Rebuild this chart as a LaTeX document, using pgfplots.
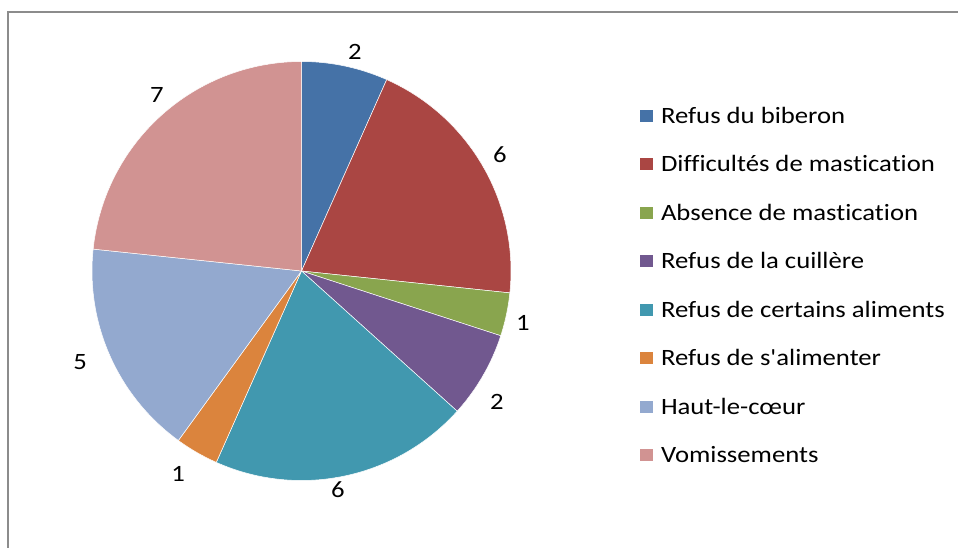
\documentclass[border=0pt]{standalone}
\usepackage{fontspec}
\setmainfont{Carlito}[FakeStretch=1.14, Ligatures={TeXOff,NoCommon}]
\usepackage{pgfplots}
\pgfplotsset{compat=1.18}
\definecolor{cA}{HTML}{4572A7}
\definecolor{cB}{HTML}{AA4643}
\definecolor{cC}{HTML}{89A54E}
\definecolor{cD}{HTML}{71588F}
\definecolor{cE}{HTML}{4198AF}
\definecolor{cF}{HTML}{DB843D}
\definecolor{cG}{HTML}{93A9CF}
\definecolor{cH}{HTML}{D19392}
\definecolor{frame}{HTML}{8C8C8C}
% #1 = cumulative count before the slice, #2 = value, #3 = colour, #4 = name (total = 30)
\newcommand{\slice}[4]{%
  \addplot[fill=#3, draw=white, line width=0.5bp, domain={90-12*(#1+#2)}:{90-12*(#1)}, samples=80]
    ({cos(x)},{sin(x)}) -- (axis cs:0,0) -- cycle;
  \addlegendentry{#4}
}
\begin{document}
\begin{tikzpicture}
\useasboundingbox (0,0) rectangle (958bp,548bp);
\draw[frame, line width=2bp] (8bp,0) -- (8bp,536bp) -- (958bp,536bp);
\begin{axis}[
  at={(301.5bp,277bp)}, anchor=center,
  scale only axis, width=502.8bp, height=502.8bp,
  xmin=-1.2, xmax=1.2, ymin=-1.2, ymax=1.2,
  hide axis, clip=false,
  font=\fontsize{23.5}{28}\selectfont,
  legend cell align=left,
  legend image code/.code={\path[#1, draw=none] (0bp,-6bp) rectangle (13bp,6bp);},
  legend style={draw=none, fill=none, at={(axis cs:1.6158,0.7766)}, anchor=north west,
    inner sep=0pt, outer sep=0pt, row sep=33.5bp, column sep=8bp,
    font=\fontsize{23.5}{28}\selectfont,
    nodes={inner sep=0pt, text height=15bp, text depth=0bp}},
]
\slice{0}{2}{cA}{Refus du biberon}
\slice{2}{6}{cB}{Difficultés de mastication}
\slice{8}{1}{cC}{Absence de mastication}
\slice{9}{2}{cD}{Refus de la cuillère}
\slice{11}{6}{cE}{Refus de certains aliments}
\slice{17}{1}{cF}{Refus de s'alimenter}
\slice{18}{5}{cG}{Haut-le-cœur}
\slice{23}{7}{cH}{Vomissements}
\node at (axis cs:0.255,1.048) {2};
\node at (axis cs:0.947,0.556) {6};
\node at (axis cs:1.057,-0.246) {1};
\node at (axis cs:0.933,-0.623) {2};
\node at (axis cs:0.174,-1.043) {6};
\node at (axis cs:-0.589,-0.971) {1};
\node at (axis cs:-1.057,-0.437) {5};
\node at (axis cs:-0.690,0.842) {7};
\end{axis}
\end{tikzpicture}
\end{document}
